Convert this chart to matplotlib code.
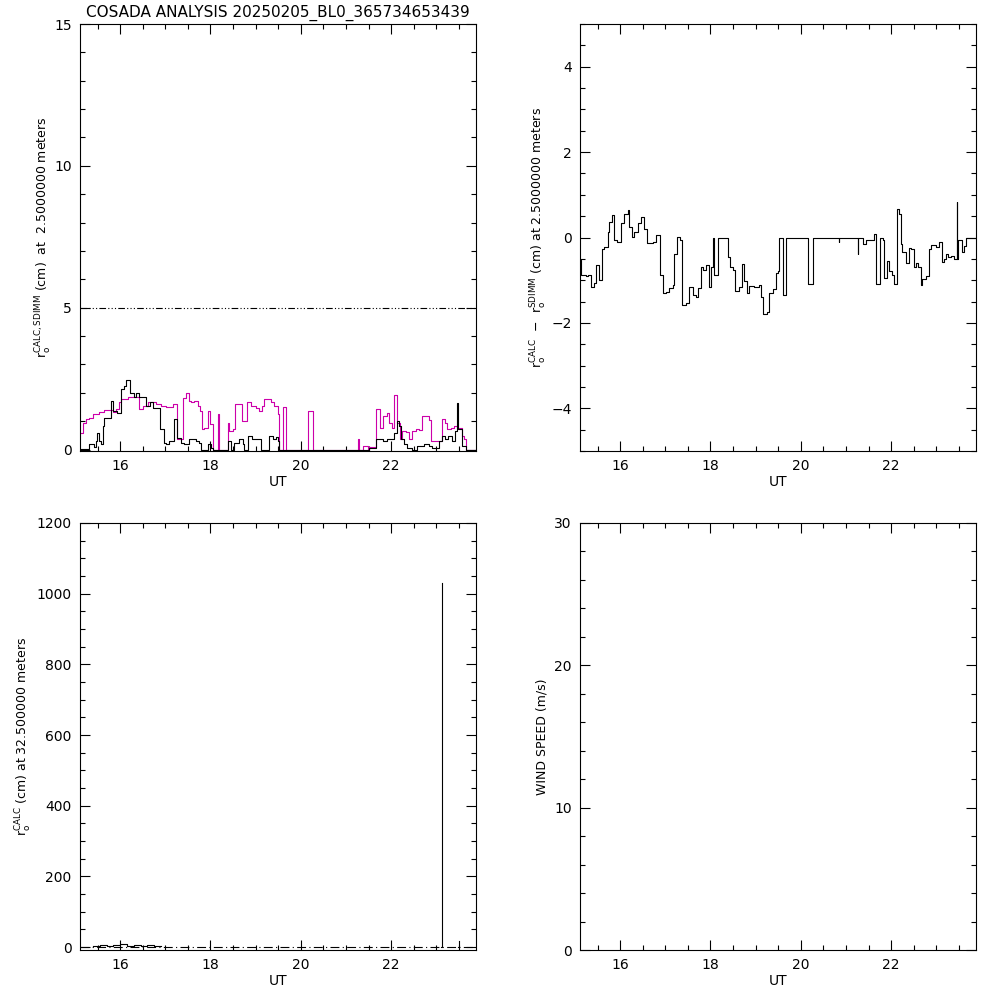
import numpy as np
import matplotlib
matplotlib.use('Agg')
import matplotlib.pyplot as plt
from matplotlib.ticker import MultipleLocator

# Zakres czasu (UT)
t_min, t_max = 15.11, 23.88

# r0 SDIMM (magenta) - poczatki krokow i wartosci
sdimm_t = [15.11, 15.17, 15.24, 15.32, 15.39, 15.54, 15.65, 15.83, 15.91, 15.97,
           16.02, 16.17, 16.42, 16.50, 16.61, 16.79, 16.90, 17.01, 17.16, 17.25,
           17.40, 17.46, 17.52, 17.57, 17.64, 17.72, 17.77, 17.81, 17.86, 17.94,
           17.99, 18.05, 18.16, 18.18, 18.38, 18.42, 18.49, 18.55, 18.70, 18.80,
           18.90, 19.01, 19.08, 19.15, 19.19, 19.34, 19.41, 19.49, 19.52, 19.61,
           19.67, 20.15, 20.28, 21.26, 21.28, 21.37, 21.48, 21.52, 21.66, 21.75,
           21.81, 21.90, 21.96, 22.03, 22.07, 22.14, 22.19, 22.25, 22.33, 22.40,
           22.46, 22.55, 22.62, 22.68, 22.83, 22.88, 23.12, 23.19, 23.24, 23.32,
           23.39, 23.47, 23.56, 23.61, 23.65]
sdimm_v = [0.57, 0.95, 1.07, 1.12, 1.24, 1.33, 1.40, 1.34, 1.44, 1.69,
           1.80, 1.86, 1.44, 1.54, 1.66, 1.60, 1.54, 1.51, 1.60, 0.36,
           1.83, 1.98, 1.72, 1.66, 1.72, 1.54, 1.36, 0.71, 0.77, 1.36,
           0.89, 0.0, 1.24, 0.0, 0.95, 0.65, 0.71, 1.60, 1.00, 1.66,
           1.54, 1.48, 1.36, 1.54, 1.78, 1.66, 1.54, 1.24, 0.0, 1.51,
           0.0, 1.36, 0.0, 0.39, 0.0, 0.14, 0.0, 0.09, 1.44, 0.77,
           1.18, 1.30, 0.95, 0.77, 1.92, 0.95, 0.36, 0.65, 0.62, 0.36,
           0.65, 0.73, 0.69, 1.18, 1.05, 0.30, 1.07, 0.95, 0.71, 0.77,
           0.83, 0.77, 0.47, 0.36, 0.0]

# r0 CALC przy 2.5 m (czarny)
calc_t = [15.11, 15.32, 15.41, 15.47, 15.48, 15.52, 15.57, 15.61, 15.65, 15.80,
          15.83, 15.92, 16.02, 16.09, 16.13, 16.22, 16.31, 16.35, 16.42, 16.57,
          16.65, 16.72, 16.88, 16.98, 17.01, 17.09, 17.20, 17.25, 17.35, 17.42,
          17.53, 17.68, 17.75, 17.79, 17.94, 18.01, 18.05, 18.38, 18.45, 18.53,
          18.64, 18.71, 18.75, 18.82, 18.93, 19.08, 19.12, 19.30, 19.38, 19.44,
          19.49, 19.52, 21.52, 21.66, 21.81, 21.92, 22.07, 22.14, 22.18, 22.21,
          22.29, 22.36, 22.47, 22.58, 22.73, 22.84, 22.91, 23.05, 23.13, 23.20,
          23.27, 23.35, 23.42, 23.46, 23.48, 23.56, 23.65]
calc_v = [0.02, 0.18, 0.09, 0.30, 0.59, 0.30, 0.18, 0.83, 1.12, 1.72,
          1.36, 1.30, 2.13, 2.25, 2.46, 2.01, 1.86, 1.99, 1.86, 1.54,
          1.66, 1.48, 0.71, 0.24, 0.18, 0.30, 1.07, 0.41, 0.24, 0.18,
          0.36, 0.30, 0.24, 0.0, 0.18, 0.06, 0.0, 0.30, 0.0, 0.24,
          0.36, 0.18, 0.0, 0.47, 0.36, 0.36, 0.0, 0.47, 0.36, 0.45,
          0.30, 0.0, 0.06, 0.36, 0.32, 0.38, 0.60, 1.00, 0.83, 0.36,
          0.18, 0.06, 0.0, 0.12, 0.18, 0.14, 0.06, 0.30, 0.47, 0.36,
          0.47, 0.30, 0.65, 1.64, 0.71, 0.12, 0.0]

# Roznica CALC - SDIMM
diff_t = [15.11, 15.14, 15.24, 15.28, 15.35, 15.43, 15.46, 15.52, 15.60, 15.65,
          15.72, 15.76, 15.82, 15.87, 15.94, 16.02, 16.09, 16.17, 16.20, 16.27,
          16.31, 16.39, 16.46, 16.53, 16.59, 16.72, 16.79, 16.88, 16.94, 17.01,
          17.09, 17.16, 17.20, 17.25, 17.32, 17.38, 17.46, 17.53, 17.61, 17.67,
          17.72, 17.79, 17.84, 17.90, 17.96, 18.01, 18.05, 18.08, 18.16, 18.38,
          18.43, 18.49, 18.55, 18.64, 18.70, 18.75, 18.80, 18.86, 18.96, 19.08,
          19.12, 19.17, 19.26, 19.30, 19.38, 19.44, 19.49, 19.52, 19.61, 19.67,
          20.15, 20.28, 20.84, 20.85, 21.26, 21.27, 21.37, 21.44, 21.52, 21.63,
          21.66, 21.75, 21.81, 21.84, 21.92, 21.96, 22.03, 22.07, 22.12, 22.18,
          22.21, 22.25, 22.33, 22.40, 22.44, 22.51, 22.55, 22.60, 22.66, 22.68,
          22.77, 22.83, 22.88, 22.99, 23.06, 23.12, 23.17, 23.22, 23.27, 23.33,
          23.39, 23.46, 23.47, 23.49, 23.56, 23.61, 23.65]
diff_v = [-0.53, -0.88, -0.91, -0.88, -1.15, -1.07, -0.64, -0.99, -0.26, -0.22,
          0.13, 0.36, 0.52, -0.06, -0.10, 0.33, 0.56, 0.64, 0.25, 0.02,
          0.13, 0.33, 0.48, 0.21, -0.12, -0.10, 0.05, -0.88, -1.30, -1.28,
          -1.19, -1.11, -0.39, 0.02, -0.06, -1.57, -1.53, -1.16, -1.34, -1.40,
          -1.19, -0.68, -0.76, -0.64, -1.16, -0.70, 0.0, -0.88, 0.0, -0.45,
          -0.68, -0.76, -1.25, -1.17, -0.62, -1.03, -1.30, -1.14, -1.17, -1.12,
          -1.40, -1.80, -1.75, -1.30, -1.20, -0.84, -0.78, 0.0, -1.35, 0.0,
          -1.08, 0.0, -0.10, 0.0, -0.38, 0.0, -0.16, -0.06, -0.06, 0.09,
          -1.08, -0.02, -0.06, -0.95, -0.55, -0.78, -0.88, -1.08, 0.67, 0.55,
          -0.15, -0.33, -0.60, -0.25, -0.28, -0.70, -0.60, -0.68, -1.12, -0.98,
          -0.90, -0.28, -0.18, -0.22, -0.10, -0.58, -0.50, -0.38, -0.46, -0.43,
          -0.50, 0.84, -0.50, -0.05, -0.33, -0.20, 0.0]

# r0 CALC przy 32.5 m (nan = brak danych)
calc32_t = [15.40, 15.55, 15.70, 15.85, 16.00, 16.15, 16.30, 16.45, 16.60, 16.75,
            16.90, 23.115, 23.120, 23.125, 23.490, 23.495, 23.500]
calc32_v = [3.0, 6.0, 2.0, 5.0, 8.0, 4.0, 6.0, 3.0, 5.0, 2.0,
            np.nan, 0.0, 1030.0, np.nan, 0.0, 17.0, np.nan]

ref_level = 5.0
magenta = '#CC00AA'

plt.rcParams['font.family'] = 'DejaVu Sans'
plt.rcParams['font.size'] = 10
plt.rcParams['axes.linewidth'] = 0.8

fig = plt.figure(figsize=(10, 10), dpi=100)
ax1 = fig.add_axes([0.080, 0.549, 0.396, 0.427])
ax2 = fig.add_axes([0.580, 0.549, 0.396, 0.427])
ax3 = fig.add_axes([0.080, 0.050, 0.396, 0.427])
ax4 = fig.add_axes([0.580, 0.050, 0.396, 0.427])


def step(ax, t, v, **kw):
    # schodki od poczatku kazdego przedzialu do konca zakresu
    tt = list(t) + [t_max]
    vv = list(v) + [v[-1]]
    ax.plot(tt, vv, drawstyle='steps-post', lw=0.8, **kw)


def style(ax, ymin, ymax, ymaj, ymin_step):
    ax.set_xlim(t_min, t_max)
    ax.set_ylim(ymin, ymax)
    ax.xaxis.set_major_locator(MultipleLocator(2))
    ax.xaxis.set_minor_locator(MultipleLocator(0.5))
    ax.yaxis.set_major_locator(MultipleLocator(ymaj))
    ax.yaxis.set_minor_locator(MultipleLocator(ymin_step))
    ax.tick_params(which='both', direction='in', top=True, right=True,
                   width=0.8, labelsize=10, pad=6)
    ax.tick_params(which='major', length=7)
    ax.tick_params(which='minor', length=3.5)
    ax.set_xlabel('UT', labelpad=1)


# Panel 1
step(ax1, sdimm_t, sdimm_v, color=magenta)
step(ax1, calc_t, calc_v, color='black')
ax1.axhline(ref_level, color='black', lw=0.8, dashes=(6, 2, 1, 2, 1, 2, 1, 2))
style(ax1, -0.05, 15, 5, 1)
ax1.set_ylabel(r'r$_{\rm o}^{\rm CALC,SDIMM}$ (cm)  at  2.5000000 meters',
               fontsize=9, labelpad=0)
ax1.set_title('COSADA ANALYSIS 20250205_BL0_365734653439', fontsize=11, pad=5)

# Panel 2
step(ax2, diff_t, diff_v, color='black')
style(ax2, -5, 5, 2, 0.5)
ax2.set_ylabel(r'r$_{\rm o}^{\rm CALC}$  $-$  r$_{\rm o}^{\rm SDIMM}$ (cm) at 2.5000000 meters',
               fontsize=9, labelpad=2)

# Panel 3
ax3.plot(calc32_t, calc32_v, drawstyle='steps-post', color='black', lw=0.8)
ax3.axhline(0, color='black', lw=0.8, dashes=(8, 3, 1, 3))
style(ax3, -8, 1200, 200, 50)
ax3.set_ylabel(r'r$_{\rm o}^{\rm CALC}$ (cm) at 32.500000 meters', fontsize=9, labelpad=2)

# Panel 4
style(ax4, 0, 30, 10, 2)
ax4.set_ylabel('WIND SPEED (m/s)', fontsize=9, labelpad=4)

fig.savefig('out.png', dpi=100)
